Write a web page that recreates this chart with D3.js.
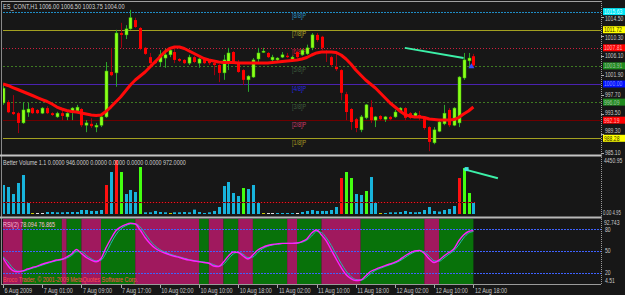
<!DOCTYPE html>
<html>
<head>
<meta charset="utf-8">
<script src="https://cdn.jsdelivr.net/npm/d3@7"></script>
<style>
  html, body { margin: 0; padding: 0; background: #171717; }
  svg { display: block; }
</style>
</head>
<body>
<svg width="625" height="295"></svg>
<script>
// ---- data (hourly bars, 6 Aug 17:00 .. 12 Aug 18:00) ----
const opens  = [995.9,996.1,993.95,993.7,991.6,993.9,994.8,994.4,993.7,994.8,993.7,992.9,993.7,992.9,993.95,994.2,994.6,991.1,991.4,990.7,
                991.1,992.9,1002.6,1002.4,1011.0,1010.6,1011.9,1013.8,1012.1,1007.8,1005.8,1005.0,1004.75,1005.6,1006.3,1006.9,1005.4,1005.2,1004.5,1005.8,
                1004.5,1005.4,1005.0,1004.5,1004.1,1002.4,1004.75,1006.9,1004.75,1003.0,1000.9,1001.5,1005.4,1006.9,1006.7,1005.2,1005.2,1005.8,1006.1,1005.4,
                1006.9,1006.3,1006.5,1007.8,1010.6,1010.2,1007.1,1005.8,1003.7,1003.0,997.8,994.6,992.4,990.1,992.7,995.0,992.2,993.1,992.4,992.9,
                992.9,993.95,994.8,993.7,992.9,993.3,992.7,990.7,987.3,989.8,991.4,994.4,991.1,991.6,1001.3,1005.0,1006.0];
const highs  = [999.8,996.5,997.6,994.0,996.1,995.9,995.0,994.6,995.0,995.2,993.9,994.0,994.4,993.9,995.0,995.5,994.8,992.2,992.6,991.6,
                993.3,1004.75,1007.8,1011.7,1013.2,1012.7,1016.0,1014.3,1012.3,1008.0,1006.7,1005.2,1007.3,1007.6,1007.6,1007.8,1005.6,1005.4,1006.3,1006.1,
                1005.6,1005.6,1005.2,1004.75,1004.3,1006.3,1007.8,1007.1,1005.2,1003.2,1001.9,1005.6,1007.8,1007.8,1006.9,1006.3,1005.8,1006.9,1006.7,1006.1,
                1007.1,1007.6,1008.5,1011.0,1011.0,1010.4,1007.3,1006.1,1006.9,1003.2,998.3,994.8,992.7,993.3,995.7,996.5,993.1,993.3,993.1,993.1,
                994.4,995.0,995.0,993.95,993.95,994.2,992.9,990.9,990.7,992.2,995.5,994.8,995.0,1001.7,1006.7,1006.7,1006.5];
const lows   = [995.5,993.7,993.3,989.4,991.4,992.9,993.5,993.5,993.5,993.5,993.1,992.7,992.2,992.2,992.2,993.95,990.7,989.6,990.5,989.6,
                990.7,992.7,1001.7,999.4,1007.8,1009.7,1011.7,1012.1,1007.3,1006.3,1003.7,1004.3,1003.7,1003.5,1005.8,1004.5,1004.75,1004.3,1004.1,1004.5,
                1003.5,1004.3,1004.1,1001.9,1000.4,1000.9,1003.0,1004.5,1002.4,999.8,998.3,1001.3,1004.75,1006.7,1005.6,1004.75,1005.0,1005.6,1005.6,1005.2,
                1005.6,1006.1,1006.3,1007.3,1009.1,1007.3,1004.75,1003.7,1002.8,996.5,992.2,990.1,989.6,989.6,992.4,991.6,990.7,992.2,991.8,992.2,
                992.7,993.7,992.2,992.4,992.7,992.2,990.1,985.5,987.0,989.6,991.1,990.7,990.9,990.7,1000.9,1003.7,1003.75];
const closes = [999.1,993.9,993.5,991.6,994.4,994.6,993.7,993.7,994.8,993.7,993.3,993.7,993.1,993.7,994.8,995.0,991.1,991.6,990.9,991.1,
                992.9,1002.8,1001.9,1011.0,1010.6,1011.9,1014.3,1012.3,1007.6,1006.5,1004.5,1004.5,1006.3,1006.3,1007.3,1005.2,1005.0,1004.5,1005.8,1004.75,
                1005.4,1004.5,1004.5,1004.1,1002.4,1005.2,1006.7,1004.75,1002.6,1000.9,1001.7,1005.2,1006.7,1007.1,1005.8,1005.8,1005.6,1006.3,1005.8,1005.8,
                1005.8,1007.3,1007.8,1010.6,1009.5,1007.8,1006.7,1004.1,1003.2,998.1,993.95,991.8,990.5,992.9,995.5,992.2,992.9,992.4,992.9,992.4,
                993.95,994.8,992.7,992.7,993.7,992.9,990.5,987.5,990.1,991.8,993.7,991.1,994.8,1001.5,1005.2,1005.6,1004.0];
const maValues = [1000.0,999.68,999.24,998.81,998.38,997.95,997.52,997.08,996.65,996.22,995.68,995.03,994.6,994.28,994.06,993.95,993.74,993.52,993.3,993.2,
                993.3,994.06,995.03,996.11,997.19,998.49,999.78,1000.86,1001.73,1002.59,1003.67,1004.75,1005.83,1006.91,1007.67,1007.99,1007.99,1007.67,1007.13,1006.59,
                1006.05,1005.51,1005.18,1004.97,1004.75,1004.64,1004.64,1004.64,1004.54,1004.54,1004.54,1004.54,1004.54,1004.54,1004.54,1004.64,1004.75,1004.86,1004.97,1005.08,
                1005.18,1005.4,1005.72,1006.26,1006.7,1006.91,1006.91,1006.91,1006.8,1006.26,1005.4,1004.32,1003.02,1001.94,1000.86,1000.0,999.14,998.06,996.98,995.9,
                995.03,994.17,993.41,993.09,992.87,992.87,992.76,992.44,992.33,992.22,992.22,992.22,992.33,992.76,993.52,994.17,995.03];

const volumes = [2390,2225,1648,2555,3214,906,50,40,40,165, 165,140,140,165,165,165,330,330,250,250,
                 330,2390,3461,4450,3461,1648,1980,1813,3873,140, 140,250,165,140,60,140,140,165,140,360,
                 165,82,140,250,577,2307,2637,1730,1483,2142, 2060,2390,906,50,20,20,82,82,82,82,
                 40,165,250,330,250,250,250,330,577,2966, 3461,2966,1648,1566,1895,3049,906,50,82,140,
                 140,165,250,165,140,165,330,577,247,200, 330,412,659,2966,3790,1730,906];
const volTypes = "nnnnnnywwn" + "nnnnnnnnnn" + "nrnrgnnngn" + "nnnnynnnnn" + "nnnnnnnnng" +
                 "nnnywwnnnn" + "wnnnnnnnnr" + "ggnngnnynn" + "nnnnnnnnnn" + "nnnrggn";
const volAverage = 946;

const rsiMain = [40.3,29.9,23.0,21.4,22.6,25.1,27.2,29.2,31.7,33.8, 35.7,37.5,38.6,41.7,45.8,52.1,46.5,41.0,37.5,35.2,
                 39.6,54.1,66.6,77.6,83.2,86.4,88.3,87.3,79.0,68.7, 60.4,54.1,50.0,47.2,44.7,42.7,41.0,38.9,37.3,36.2,
                 35.2,34.1,33.1,29.2,28.5,34.8,43.1,48.6,47.9,43.1, 38.9,44.5,51.4,55.1,57.6,59.0,59.9,60.5,60.6,60.6,
                 61.1,63.1,66.6,74.9,79.0,72.1,63.8,51.4,38.9,27.2, 17.5,11.9,9.2,9.9,15.4,21.6,24.7,27.4,29.9,32.0,
                 34.5,38.2,43.1,47.2,50.0,50.7,46.5,38.9,34.1,37.5, 43.1,47.9,52.8,63.8,72.1,77.0,78.1];
const rsiSignal = [42,35,26.5,22.2,22,23.9,26.2,28.2,30.5,32.8, 34.8,36.6,38,40.2,43.8,49,49.3,43.8,39.3,36.4,
                 37.4,46.9,60.4,72.1,80.4,84.8,87.4,87.8,83.2,73.9, 64.6,57.3,52,48.6,46,43.7,41.9,40,38.1,36.8,
                 35.7,34.7,33.6,31.2,28.9,31.6,39,45.9,48.3,45.5, 41,41.7,48,53.3,56.4,58.3,59.5,60.2,60.6,60.6,
                 60.9,62.1,64.9,70.8,77,75.6,68,57.6,45.2,33, 22.4,14.7,10.6,9.6,12.7,18.5,23.2,26,28.7,31,
                 33.3,36.4,40.7,45.2,48.6,50.4,48.6,42.7,36.5,35.8, 40.3,45.5,50.4,58.3,68,74.6,76.9];
// [first bar, last bar, phase] for the rsi background
const rsiPhases = [[0,4,"dn"],[5,12,"up"],[13,13,"dn"],[14,16,"up"],[17,20,"dn"],[21,27,"up"],[28,40,"dn"],
                   [41,42,"up"],[43,45,"dn"],[46,48,"up"],[49,51,"dn"],[52,58,"up"],[59,60,"dn"],[61,65,"up"],
                   [66,73,"dn"],[74,86,"up"],[87,89,"dn"],[90,96,"up"]];
const rsiLevels = [80, 50, 20];

const murreyLevels = [1015.63, 1011.72, 1007.81, 1003.91, 1000.00, 996.09, 992.19, 988.28];
const murreyNames  = ["[8/8]P","[7/8]P","[6/8]P","[5/8]P","[4/8]P","[3/8]P","[2/8]P","[1/8]P"];
const priceTicks   = [1014.50, 1010.30, 1006.10, 1001.90, 997.70, 993.50, 989.30, 985.10];

const timeLabels = [[0,"6 Aug 2009"],[8,"7 Aug 01:00"],[16,"7 Aug 09:00"],[24,"7 Aug 17:00"],[32,"10 Aug 02:00"],
                    [40,"10 Aug 10:00"],[48,"10 Aug 18:00"],[56,"11 Aug 02:00"],[64,"11 Aug 10:00"],[72,"11 Aug 18:00"],
                    [80,"12 Aug 02:00"],[88,"12 Aug 10:00"],[96,"12 Aug 18:00"]];

const priceTrend = [[82, 1007.8], [94, 1005.6]];
const volTrend   = [[94, 3700], [101, 2950]];

// ---- drawing ----
let svg = d3.select("svg");
const FONT = "Liberation Sans, Arial, sans-serif";
const left = 3, right = 601;

let x  = d3.scaleLinear().domain([0, 96]).range([3, 473.4]);
let yP = d3.scaleLinear().domain([1000, 1015.63]).range([84, 11.6]);
let yV = d3.scaleLinear().domain([0, 4450.95]).range([214, 160]);
let yR = d3.scaleLinear().domain([20, 80]).range([272.7, 229.3]);

function label(g, px, py, s, color, size, sx) {
    return g.append("text")
        .attr("transform", `translate(${px},${py}) scale(${sx || 0.78},1)`)
        .attr("font-family", FONT)
        .attr("font-size", size || 7)
        .attr("fill", color)
        .text(s);
}

svg.append("rect").attr("width", 625).attr("height", 295).attr("fill", "#171717");

svg.append("clipPath").attr("id", "plot").append("rect")
    .attr("x", left).attr("y", 0).attr("width", right - left).attr("height", 295);

let mainLayer = svg.append("g").attr("clip-path", "url(#plot)");
let volLayer  = svg.append("g").attr("clip-path", "url(#plot)");
let rsiLayer  = svg.append("g").attr("clip-path", "url(#plot)");
let axisLayer = svg.append("g");

/* MURREY LINES */
const mmStroke = ["#1f8cc4","#a3a020","#d0203e","#3f7a22","#4a22b0","#3f7a22","#6e0000","#a3a020"];
const mmDash   = ["2,1","","1,2","2,2","","2,2","",""];
const mmText   = ["#2a8fc0","#b4a82a","#c82040","#3d5a3d","#2626e0","#3d5a3d","#d03a6a","#a89a22"];
murreyLevels.forEach((lv, i) => {
    mainLayer.append("line")
        .attr("x1", left).attr("x2", right)
        .attr("y1", Math.round(yP(lv)) + 0.5).attr("y2", Math.round(yP(lv)) + 0.5)
        .attr("stroke", mmStroke[i]).attr("stroke-width", 1)
        .attr("stroke-dasharray", mmDash[i] || null);
    label(mainLayer, 292, yP(lv) + 6.5, murreyNames[i], mmText[i], 7);
});

/* CANDLES */
let bars = d3.range(opens.length).map(i => ({i, o: opens[i], h: highs[i], l: lows[i], c: closes[i]}));
let candles = mainLayer.selectAll("g.candle").data(bars).enter().append("g").classed("candle", true);
candles.append("line")
    .attr("x1", d => Math.round(x(d.i)) + 0.5).attr("x2", d => Math.round(x(d.i)) + 0.5)
    .attr("y1", d => yP(d.h)).attr("y2", d => yP(d.l))
    .attr("stroke", d => d.c >= d.o ? "#2aa52a" : "#a00010");
candles.append("rect")
    .attr("x", d => Math.round(x(d.i)) - 1)
    .attr("width", 3)
    .attr("y", d => yP(Math.max(d.o, d.c)))
    .attr("height", d => Math.max(1.2, Math.abs(yP(d.o) - yP(d.c))))
    .attr("fill", d => d.c >= d.o ? "#8cff1a" : "#ff0000")
    .attr("stroke", d => d.c >= d.o ? "#3cc000" : "none")
    .attr("stroke-width", 0.5);

/* MOVING AVERAGE */
mainLayer.append("path")
    .datum(maValues)
    .attr("d", d3.line().x((d, i) => x(i)).y(d => yP(d)))
    .attr("fill", "none").attr("stroke", "#ff0a0a").attr("stroke-width", 3)
    .attr("stroke-linejoin", "round");

/* trend line + signal arrow */
mainLayer.append("line")
    .attr("x1", x(priceTrend[0][0])).attr("y1", yP(priceTrend[0][1]))
    .attr("x2", x(priceTrend[1][0])).attr("y2", yP(priceTrend[1][1]))
    .attr("stroke", "#3cf0a8").attr("stroke-width", 2);
mainLayer.append("path")
    .attr("d", `M${x(96) - 2},${yP(1004.5)} l3,5 h-6 z`)
    .attr("fill", "#3a4cff");

label(svg, 3, 8.5, "ES_CONT,H1  1006.00 1006.50 1003.75 1004.00", "#d4d4d4", 7, 0.8);

/* VOLUME */
const volColor = {n: "#18b4dc", r: "#ff1010", g: "#44ff10", y: "#c8c800", w: "#dddddd"};
volLayer.selectAll("rect.vol").data(volumes).enter().append("rect")
    .attr("class", "vol")
    .attr("x", (d, i) => Math.round(x(i)) - 1)
    .attr("width", 3)
    .attr("y", d => Math.min(yV(d), 213))
    .attr("height", d => Math.max(1, 214 - yV(d)))
    .attr("fill", (d, i) => volColor[volTypes[i]]);
volLayer.append("line")
    .attr("x1", left).attr("x2", x(96) + 2)
    .attr("y1", yV(volAverage)).attr("y2", yV(volAverage))
    .attr("stroke", "#5a0000").attr("stroke-width", 1);
volLayer.append("line")
    .attr("x1", left).attr("x2", x(96) + 2)
    .attr("y1", yV(volAverage)).attr("y2", yV(volAverage))
    .attr("stroke", "#e02030").attr("stroke-width", 1).attr("stroke-dasharray", "1,2");
volLayer.append("line")
    .attr("x1", x(volTrend[0][0])).attr("y1", yV(volTrend[0][1]))
    .attr("x2", x(volTrend[1][0])).attr("y2", yV(volTrend[1][1]))
    .attr("stroke", "#3cf0a8").attr("stroke-width", 2);
volLayer.append("rect")
    .attr("x", x(94) + 1).attr("y", yV(volTrend[0][1]) - 2).attr("width", 4).attr("height", 4)
    .attr("fill", "#40e8e0");
label(svg, 3, 164.5, "Better Volume 1.1 0.0000 946.0000 0.0000 0.0000 0.0000 0.0000 972.0000", "#d0d0d0", 7);

/* RSI */
const phaseColor = {up: "#08720a", dn: "#a0195e"};
rsiPhases.forEach(([a, b, ph]) => {
    let x0 = Math.max(left, x(a) - 4.9), x1 = x(b);
    rsiLayer.append("rect")
        .attr("x", x0).attr("width", x1 - x0)
        .attr("y", 219).attr("height", 65)
        .attr("fill", phaseColor[ph]);
});
rsiLevels.forEach(lv => {
    rsiLayer.append("line")
        .attr("x1", left).attr("x2", right)
        .attr("y1", Math.round(yR(lv)) + 0.5).attr("y2", Math.round(yR(lv)) + 0.5)
        .attr("stroke", "#3e62ff").attr("stroke-dasharray", "2,1");
});
let rsiLine = d3.line().x((d, i) => x(i)).y(d => yR(d)).curve(d3.curveMonotoneX);
rsiLayer.append("path").datum(rsiSignal).attr("d", rsiLine)
    .attr("fill", "none").attr("stroke", "#26b8b0").attr("stroke-width", 1);
rsiLayer.append("path").datum(rsiMain).attr("d", rsiLine)
    .attr("fill", "none").attr("stroke", "#ff22ff").attr("stroke-width", 1.4);
label(svg, 3, 227, "RSI(2) 78.094 76.865", "#ffc0dc", 7);
label(svg, 3, 282, "Broco Trader, \u00a9 2001-2009 MetaQuotes Software Corp.", "#ff4a4a", 7);

/* FRAMES */
axisLayer.append("line").attr("x1", 1.5).attr("x2", 1.5).attr("y1", 1).attr("y2", 285).attr("stroke", "#8a8a8a");
axisLayer.append("line").attr("x1", 1).attr("x2", right).attr("y1", 1.5).attr("y2", 1.5).attr("stroke", "#a0a0a0");
axisLayer.append("rect").attr("x", 0).attr("y", 154.5).attr("width", right + 1).attr("height", 2).attr("fill", "#c4c4c4");
axisLayer.append("rect").attr("x", 0).attr("y", 216.5).attr("width", right + 1).attr("height", 2).attr("fill", "#b8b8b8");
axisLayer.append("line").attr("x1", 1).attr("x2", right).attr("y1", 284.5).attr("y2", 284.5).attr("stroke", "#9a9a9a");
axisLayer.append("line").attr("x1", right + 0.5).attr("x2", right + 0.5).attr("y1", 1).attr("y2", 285)
    .attr("stroke", "#9a9a9a").attr("stroke-dasharray", "1,1");

/* PRICE AXIS */
const boxFill = ["#00e4f4","#ffff00","#ff0000","#1f8a1f","#0010ff","#1f8a1f","#ff0000","#ffff00"];
const boxText = ["#d8ffff","#303000","#ffb0b0","#a0c0a0","#8090ff","#a0c0a0","#ffb0b0","#303000"];
let boxY = murreyLevels.map(lv => yP(lv));
priceTicks.forEach(v => {
    let ty = yP(v);
    axisLayer.append("line").attr("x1", right).attr("x2", right + 3)
        .attr("y1", Math.round(ty) + 0.5).attr("y2", Math.round(ty) + 0.5).attr("stroke", "#aaa");
    // keep the tick text clear of a coloured box that sits too close
    let near = boxY.find(b => Math.abs(b - ty) < 7.5);
    let off = near === undefined ? 0 : (ty > near ? 7.6 - (ty - near) : -(7.6 - (near - ty)));
    label(axisLayer, 605, ty + 2.2 + off, v.toFixed(2), "#c8c8c8", 6.5);
});
murreyLevels.forEach((lv, i) => {
    let cy = yP(lv);
    axisLayer.append("rect").attr("x", 603).attr("y", cy - 3.5).attr("width", 22).attr("height", 7).attr("fill", boxFill[i]);
    label(axisLayer, 604, cy + 2.4, lv.toFixed(2), boxText[i], 6.5);
});

/* VOLUME + RSI AXIS */
label(axisLayer, 604, 162.5, "4450.95", "#c8c8c8", 6.5);
label(axisLayer, 603, 215, "0.00 4.95", "#c8c8c8", 6.5, 0.66);
label(axisLayer, 604, 224.5, "92.743", "#c8c8c8", 6.5);
rsiLevels.forEach(lv => label(axisLayer, 605, yR(lv) + 2.3, String(lv), "#c8c8c8", 6.5));
label(axisLayer, 605, 283, "4.51", "#c8c8c8", 6.5);

/* TIME AXIS */
timeLabels.forEach(([b, s]) => {
    axisLayer.append("line").attr("x1", Math.round(x(b)) + 0.5).attr("x2", Math.round(x(b)) + 0.5)
        .attr("y1", 285).attr("y2", 288).attr("stroke", "#aaa");
    label(axisLayer, x(b) + 1.5, 292.5, s, "#c8c8c8", 7);
});
</script>
</body>
</html>
